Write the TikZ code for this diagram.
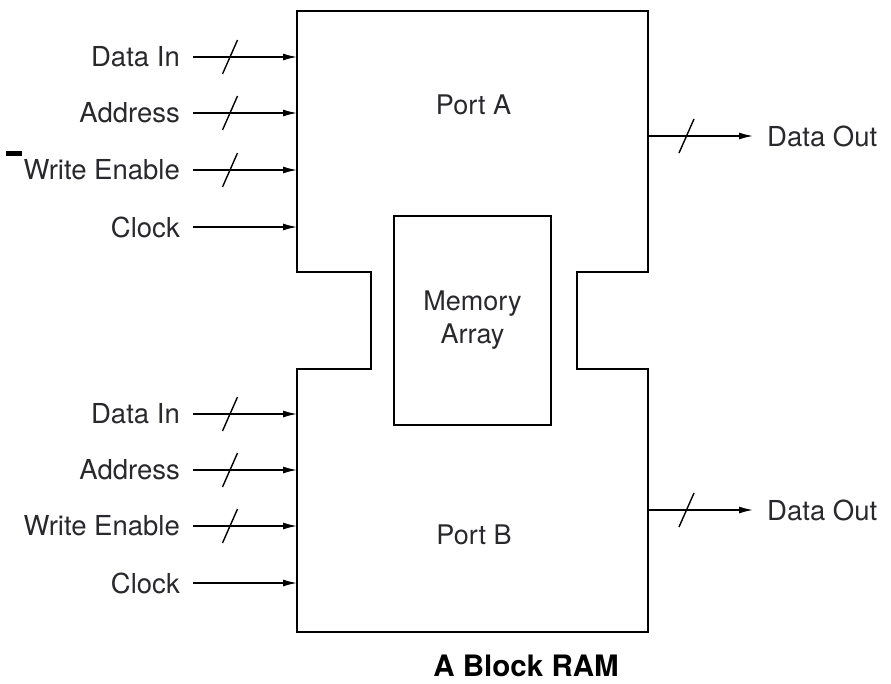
\documentclass[tikz,border=0pt]{standalone}
\usepackage{fontspec}
\setmainfont{TeX Gyre Heros}
\usepackage{tikz}
\usetikzlibrary{arrows.meta, positioning, calc}
\definecolor{texteGris}{RGB}{40, 40, 45}

\begin{document}
\begin{tikzpicture}[x=1pt, y=-1pt,
  block/.style={draw=black, line width=2.8pt, line join=miter},
  memarr/.style={rectangle, draw=black, line width=2.8pt,
    minimum width=157pt, minimum height=209pt, align=center,
    text=texteGris, font=\fontsize{27pt}{33pt}\selectfont},
  inlbl/.style={anchor=east, inner xsep=13pt, inner ysep=1pt,
    text=texteGris, font=\fontsize{27.5pt}{32pt}\selectfont},
  outlbl/.style={anchor=west, inner xsep=14pt, inner ysep=1pt,
    text=texteGris, font=\fontsize{27.5pt}{32pt}\selectfont},
  portlbl/.style={text=texteGris, font=\fontsize{27pt}{32pt}\selectfont},
  arr/.style={-{Latex[length=14pt, width=7pt]}, line width=1.4pt},
  slash/.style={line width=1.4pt},
]
\useasboundingbox (0,0) rectangle (891,683);

% the block ram outline
\draw[block] (297,11) -- (648,11) -- (648,272) -- (577,272)
  -- (577,369) -- (648,369) -- (648,632) -- (297,632) -- (297,369)
  -- (371,369) -- (371,272) -- (297,272) -- cycle;
\coordinate (bordG) at (297,11);
\coordinate (bordD) at (648,11);

\node[memarr] (mem) at (472.5,320.5) {Memory\\Array};
\node[portlbl] (porta) at (473.5,105) {Port A};
\node[portlbl] (portb) at (474,535) {Port B};
\node[font=\fontsize{29.5pt}{34pt}\selectfont\bfseries, text=black,
  inner sep=0pt] (titre) at (526,666) {A Block RAM};

% port A inputs
\node[inlbl] (dinA)  at (193,57)  {Data In};
\node[inlbl] (addrA) at (193,113) {Address};
\node[inlbl] (weA)   at (193,170) {Write Enable};
\node[inlbl] (clkA)  at (193,227) {Clock};
% port B inputs
\node[inlbl] (dinB)  at (193,414) {Data In};
\node[inlbl] (addrB) at (193,470) {Address};
\node[inlbl] (weB)   at (193,526) {Write Enable};
\node[inlbl] (clkB)  at (193,583) {Clock};

\draw[arr] (dinA.east)  -- (dinA.east -| bordG);
\draw[arr] (addrA.east) -- (addrA.east -| bordG);
\draw[arr] (weA.east)   -- (weA.east -| bordG);
\draw[arr] (clkA.east)  -- (clkA.east -| bordG);
\draw[arr] (dinB.east)  -- (dinB.east -| bordG);
\draw[arr] (addrB.east) -- (addrB.east -| bordG);
\draw[arr] (weB.east)   -- (weB.east -| bordG);
\draw[arr] (clkB.east)  -- (clkB.east -| bordG);

% outputs
\node[outlbl] (doutA) at (753,136) {Data Out};
\node[outlbl] (doutB) at (753,510) {Data Out};
\draw[arr] (doutA.west -| bordD) -- (doutA.west);
\draw[arr] (doutB.west -| bordD) -- (doutB.west);

% bus marks
\foreach \y in {57,113,170,414,470,526}
  \draw[slash] (230,\y) ++(-7.5,17) -- ++(15,-34);
\foreach \y in {136,510}
  \draw[slash] (686.5,\y) ++(-7.5,17) -- ++(15,-34);

\fill[black] (6,151) rectangle (22,155.5);
\end{tikzpicture}
\end{document}
